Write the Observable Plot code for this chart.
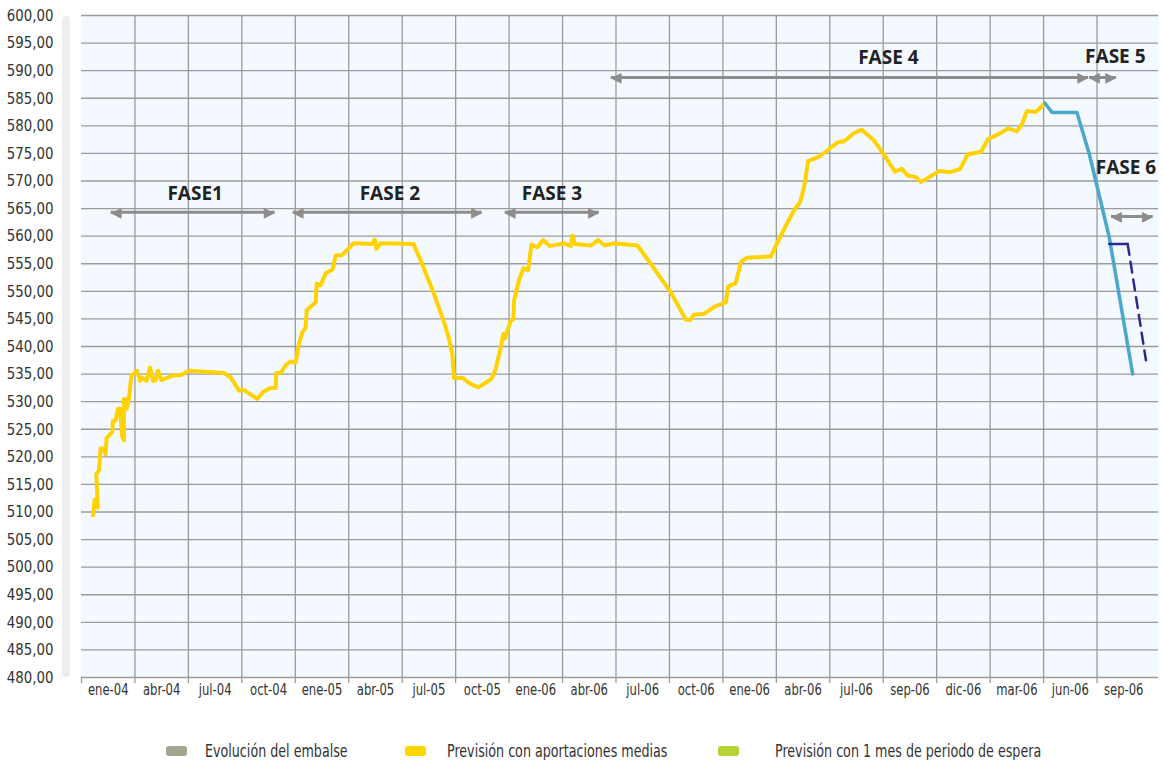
<!DOCTYPE html>
<html>
<head>
<meta charset="utf-8">
<script src="https://cdn.jsdelivr.net/npm/d3@7"></script>
<script src="https://cdn.jsdelivr.net/npm/@observablehq/plot@0.6"></script>
<style>
  html, body { margin: 0; padding: 0; background: #ffffff; }
  #wrap { position: relative; width: 1164px; height: 760px; overflow: hidden; }
  #bar { position: absolute; left: 62px; top: 16px; width: 8px; height: 661px; border-radius: 4px; background: #eeeeee; }
  #chart { position: absolute; left: 0; top: 0; }
  .leg { position: absolute; top: 741px; height: 20px; line-height: 20px; font-family: "Liberation Sans Narrow", "DejaVu Sans Condensed", "Roboto", sans-serif; font-size: 17px; color: #333; white-space: nowrap; transform: scaleX(0.83); transform-origin: left center; }
  .sw { position: absolute; top: 746px; width: 21px; height: 10px; border-radius: 3px; }
</style>
</head>
<body>
<div id="wrap">
  <div id="bar"></div>
  <div id="chart"></div>
  <div class="sw" style="left:166px;background:#a3a58f"></div>
  <div class="leg" style="left:205px">Evolución del embalse</div>
  <div class="sw" style="left:405px;background:#ffd700"></div>
  <div class="leg" style="left:447px">Previsión con aportaciones medias</div>
  <div class="sw" style="left:718px;background:#b5d334"></div>
  <div class="leg" style="left:775px">Previsión con 1 mes de periodo de espera</div>
</div>
<script>
// x unit: quarter index (0 = start of "ene-04" band)
const quarterLabels = ["ene-04","abr-04","jul-04","oct-04","ene-05","abr-05","jul-05","oct-05","ene-06","abr-06","jul-06","oct-06","ene-06","abr-06","jul-06","sep-06","dic-06","mar-06","jun-06","sep-06"];
const yTicks = [480,485,490,495,500,505,510,515,520,525,530,535,540,545,550,555,560,565,570,575,580,585,590,595,600];

// Previsión con aportaciones medias (yellow)
const aportacionesMedias = [
  [0.217,509.4],[0.245,512.2],[0.307,510.8],[0.277,516.9],[0.326,517.5],[0.357,521.5],[0.419,521.5],[0.451,520.5],
  [0.470,523.4],[0.576,524.5],[0.588,526.5],[0.638,526.6],[0.681,528.7],[0.719,528.7],[0.764,523.6],[0.794,523.0],
  [0.794,530.5],[0.825,530.5],[0.844,528.7],[0.887,530.5],[0.932,534.7],[1.044,535.6],[1.093,533.8],[1.138,534.3],
  [1.218,533.8],[1.280,536.2],[1.344,533.7],[1.387,533.9],[1.430,535.6],[1.494,533.9],[1.729,534.8],[1.855,534.8],
  [2.010,535.6],[2.665,535.2],[2.791,534.4],[2.852,533.5],[2.946,532.0],[3.040,532.1],[3.290,530.5],[3.403,531.8],
  [3.539,532.5],[3.633,532.5],[3.646,535.2],[3.726,535.2],[3.820,536.6],[3.914,537.3],[4.007,537.1],[4.069,540.5],
  [4.133,542.6],[4.194,543.4],[4.213,546.6],[4.288,547.2],[4.381,548.0],[4.400,551.4],[4.475,551.1],[4.569,553.3],
  [4.694,553.9],[4.756,556.5],[4.881,556.6],[5.087,558.7],[5.443,558.6],[5.486,559.4],[5.517,557.7],[5.598,558.7],
  [6.210,558.6],[6.347,555.6],[6.596,549.5],[6.783,544.4],[6.876,541.4],[6.940,538.4],[6.970,534.3],[7.127,534.3],
  [7.283,533.2],[7.427,532.6],[7.670,534.1],[7.750,535.9],[7.844,539.9],[7.894,542.3],[7.919,541.4],[8.031,544.7],
  [8.082,545.0],[8.092,548.3],[8.186,552.0],[8.269,554.2],[8.355,553.8],[8.419,558.5],[8.531,558.0],[8.636,559.3],
  [8.761,558.2],[9.029,558.7],[9.154,558.2],[9.186,560.1],[9.229,558.6],[9.528,558.3],[9.665,559.3],[9.790,558.3],
  [9.964,558.7],[10.402,558.3],[10.651,555.0],[11.026,549.8],[11.306,544.9],[11.387,544.8],[11.462,545.8],[11.649,545.9],
  [11.836,547.2],[12.055,548.0],[12.098,550.9],[12.242,551.5],[12.336,555.3],[12.448,556.1],[12.897,556.3],[13.023,558.9],
  [13.178,561.9],[13.333,564.7],[13.446,566.2],[13.520,568.9],[13.595,573.6],[13.801,574.4],[13.988,575.8],[14.146,577.0],
  [14.269,577.2],[14.457,578.7],[14.600,579.3],[14.831,577.3],[15.018,574.7],[15.218,571.7],[15.349,572.2],[15.456,571.0],
  [15.611,570.7],[15.705,569.8],[16.047,571.8],[16.253,571.6],[16.440,572.2],[16.579,574.8],[16.828,575.3],[16.964,577.6],
  [17.140,578.4],[17.339,579.5],[17.502,579.0],[17.590,580.2],[17.689,582.7],[17.857,582.5],[18.026,584.1]
];
// Fase 5 descent (light blue)
const previsionFase5 = [[18.026,584.1],[18.162,582.4],[18.624,582.4],[18.855,574.9],[19.229,559.8],[19.667,535.0]];
// Espera (navy): flat part then dashed descent
const esperaTramoPlano = [[19.229,558.6],[19.573,558.6]];
const esperaTramoDescenso = [[19.573,558.6],[19.915,537.5]];

// Phase annotations
const fases = [
  {label:"FASE1",  x1:0.545,  x2:3.613,  y:564.35, lx:2.126,  ly:567.7},
  {label:"FASE 2", x1:3.951,  x2:7.488,  y:564.35, lx:5.770,  ly:567.7},
  {label:"FASE 3", x1:7.919,  x2:9.679,  y:564.35, lx:8.802,  ly:567.7},
  {label:"FASE 4", x1:9.903,  x2:18.830, y:588.76, lx:15.096, ly:592.4},
  {label:"FASE 5", x1:18.849, x2:19.354, y:588.76, lx:19.342, ly:592.5},
  {label:"FASE 6", x1:19.261, x2:20.041, y:563.57, lx:19.542, ly:572.3}
];

const grid = "#9b9b9b";
const narrow = "'Liberation Sans Narrow', 'DejaVu Sans Condensed', 'Roboto', sans-serif";
const fmt = d => d.toFixed(2).replace(".", ",");

const chart = Plot.plot({
  width: 1164,
  height: 700,
  marginTop: 15,
  marginLeft: 81,
  marginRight: 6,
  marginBottom: 23,
  x: {domain: [0, 20.15]},
  y: {domain: [480, 600]},
  style: {fontFamily: narrow, fontSize: "16px", color: "#333", background: "transparent", overflow: "visible"},
  marks: [
    Plot.frame({fill: "#f3f9fe", stroke: null}),
    Plot.ruleY(yTicks, {stroke: grid, strokeWidth: 1.3}),
    Plot.ruleX(d3.range(1, 20), {stroke: grid, strokeWidth: 1.3}),
    Plot.axisY({ticks: yTicks, tickFormat: fmt, tickSize: 0, tickPadding: 28, label: null, fontSize: 16.5, fill: "#333"}),
    Plot.axisX({ticks: d3.range(0, 20), tickFormat: () => "", tickSize: 6, stroke: grid, strokeWidth: 1.3, label: null}),
    Plot.axisX({ticks: d3.range(20).map(i => i + 0.5), tickFormat: d => quarterLabels[Math.round(d - 0.5)], tickSize: 0, tickPadding: 7, label: null, fontSize: 15, fill: "#333"}),
    Plot.line(aportacionesMedias, {x: d => d[0], y: d => d[1], stroke: "#ffd200", strokeWidth: 4}),
    Plot.line(previsionFase5, {x: d => d[0], y: d => d[1], stroke: "#4ba8cb", strokeWidth: 3.5}),
    Plot.line(esperaTramoPlano, {x: d => d[0], y: d => d[1], stroke: "#2b2b8c", strokeWidth: 2.5}),
    Plot.line(esperaTramoDescenso, {x: d => d[0], y: d => d[1], stroke: "#2b2b8c", strokeWidth: 2.5, strokeDasharray: "11,7"}),
    Plot.link(fases, {x1: "x1", x2: "x2", y1: "y", y2: "y", stroke: "#8c8c8c", strokeWidth: 3}),
    Plot.text(fases, {x: "x1", y: "y", text: () => "◀", textAnchor: "start", fill: "#8c8c8c", fontSize: 14, fontFamily: "DejaVu Sans"}),
    Plot.text(fases, {x: "x2", y: "y", text: () => "▶", textAnchor: "end", fill: "#8c8c8c", fontSize: 14, fontFamily: "DejaVu Sans"}),
    Plot.text(fases, {x: "lx", y: "ly", text: "label", fontWeight: "bold", fontSize: 19, fill: "#222", fontFamily: "'Open Sans', sans-serif"})
  ]
});
document.getElementById("chart").appendChild(chart);

// Emulate the condensed typeface of the original tick labels
function condense(selector, factor) {
  chart.querySelectorAll(selector).forEach(t => {
    const len = t.getComputedTextLength();
    if (len > 0) {
      t.setAttribute("textLength", (len * factor).toFixed(1));
      t.setAttribute("lengthAdjust", "spacingAndGlyphs");
    }
  });
}
condense('g[aria-label="y-axis tick label"] text', 0.9);
condense('g[aria-label="x-axis tick label"] text', 0.86);
</script>
</body>
</html>
